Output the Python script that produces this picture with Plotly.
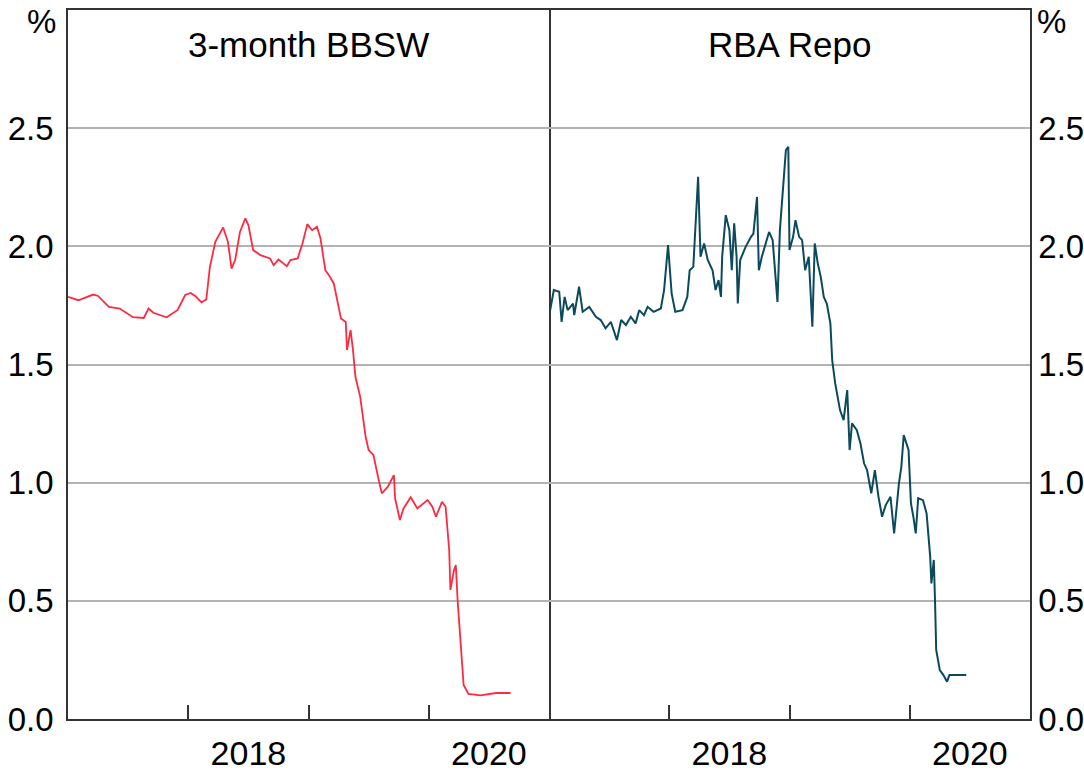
import plotly.graph_objects as go
from plotly.subplots import make_subplots

# fechas en años decimales, valores en %
bbsw_x = [2017.00, 2017.086, 2017.21, 2017.25, 2017.34, 2017.43, 2017.54, 2017.63, 2017.67, 2017.71,
          2017.82, 2017.91, 2017.975, 2018.02, 2018.06, 2018.11, 2018.15, 2018.18, 2018.225, 2018.29,
          2018.33, 2018.36, 2018.39, 2018.43, 2018.475, 2018.50, 2018.54, 2018.60, 2018.68, 2018.71,
          2018.75, 2018.82, 2018.85, 2018.91, 2018.95, 2018.99, 2019.03, 2019.07, 2019.10, 2019.14,
          2019.17, 2019.21, 2019.27, 2019.31, 2019.32, 2019.35, 2019.37, 2019.39, 2019.43, 2019.475,
          2019.50, 2019.54, 2019.59, 2019.61, 2019.66, 2019.71, 2019.72, 2019.76, 2019.79, 2019.85,
          2019.905, 2019.99, 2020.03, 2020.06, 2020.11, 2020.14, 2020.17, 2020.18, 2020.21, 2020.225,
          2020.24, 2020.27, 2020.29, 2020.33, 2020.43, 2020.56, 2020.68]
bbsw_y = [1.786, 1.772, 1.796, 1.79, 1.744, 1.737, 1.70, 1.697, 1.737, 1.719,
          1.70, 1.73, 1.794, 1.803, 1.789, 1.763, 1.775, 1.913, 2.019, 2.08,
          2.019, 1.906, 1.942, 2.061, 2.118, 2.09, 1.984, 1.963, 1.949, 1.92,
          1.944, 1.916, 1.942, 1.949, 2.012, 2.094, 2.068, 2.083, 2.033, 1.899,
          1.878, 1.843, 1.695, 1.68, 1.561, 1.646, 1.561, 1.448, 1.363, 1.194,
          1.138, 1.117, 0.997, 0.955, 0.983, 1.032, 0.934, 0.842, 0.891, 0.938,
          0.891, 0.926, 0.898, 0.856, 0.919, 0.898, 0.715, 0.546, 0.63, 0.651,
          0.503, 0.271, 0.144, 0.106, 0.10, 0.11, 0.11]

repo_x = [2017.01, 2017.04, 2017.085, 2017.105, 2017.13, 2017.155, 2017.20, 2017.21, 2017.25, 2017.28,
          2017.335, 2017.39, 2017.43, 2017.47, 2017.515, 2017.565, 2017.60, 2017.64, 2017.68, 2017.72,
          2017.75, 2017.79, 2017.82, 2017.87, 2017.93, 2017.957, 2017.99, 2018.02, 2018.05, 2018.11,
          2018.15, 2018.17, 2018.20, 2018.22, 2018.24, 2018.26, 2018.29, 2018.32, 2018.36, 2018.385,
          2018.41, 2018.43, 2018.44, 2018.47, 2018.50, 2018.52, 2018.54, 2018.56, 2018.57, 2018.59,
          2018.635, 2018.68, 2018.70, 2018.73, 2018.745, 2018.77, 2018.83, 2018.86, 2018.88, 2018.90,
          2018.92, 2018.95, 2018.97, 2018.99, 2019.00, 2019.03, 2019.05, 2019.08, 2019.105, 2019.13,
          2019.16, 2019.19, 2019.21, 2019.235, 2019.26, 2019.285, 2019.31, 2019.34, 2019.355, 2019.38,
          2019.42, 2019.45, 2019.48, 2019.50, 2019.52, 2019.56, 2019.59, 2019.62, 2019.645, 2019.68,
          2019.71, 2019.74, 2019.77, 2019.80, 2019.84, 2019.87, 2019.91, 2019.93, 2019.95, 2019.99,
          2020.01, 2020.03, 2020.05, 2020.07, 2020.11, 2020.14, 2020.17, 2020.18, 2020.20, 2020.21,
          2020.22, 2020.25, 2020.28, 2020.31, 2020.33, 2020.47]
repo_y = [1.73, 1.815, 1.808, 1.68, 1.786, 1.73, 1.758, 1.709, 1.829, 1.723,
          1.744, 1.702, 1.688, 1.653, 1.68, 1.603, 1.688, 1.667, 1.702, 1.674,
          1.73, 1.709, 1.744, 1.723, 1.737, 1.815, 2.005, 1.80, 1.723, 1.73,
          1.786, 1.899, 1.913, 2.111, 2.294, 1.956, 2.012, 1.942, 1.899, 1.815,
          1.857, 1.786, 1.956, 2.132, 2.068, 1.899, 2.097, 1.956, 1.758, 1.942,
          1.998, 2.04, 2.054, 2.209, 1.899, 1.956, 2.061, 2.026, 1.885, 1.765,
          2.068, 2.266, 2.407, 2.421, 1.984, 2.04, 2.111, 2.04, 2.026, 1.899,
          1.956, 1.66, 2.012, 1.928, 1.871, 1.786, 1.758, 1.674, 1.519, 1.42,
          1.307, 1.265, 1.392, 1.138, 1.251, 1.222, 1.166, 1.082, 1.053, 0.955,
          1.053, 0.94, 0.856, 0.905, 0.94, 0.785, 0.997, 1.067, 1.201, 1.138,
          0.912, 0.856, 0.785, 0.934, 0.926, 0.87, 0.687, 0.574, 0.673, 0.503,
          0.292, 0.207, 0.186, 0.158, 0.186, 0.186]

titulos = ['3-month BBSW', 'RBA Repo']
y_ticks = [0.0, 0.5, 1.0, 1.5, 2.0, 2.5]
x_labels = ['2018', '2020']

FUENTE = 'Arial, Liberation Sans, sans-serif'
TAM = 33

fig = make_subplots(rows=1, cols=2, horizontal_spacing=0)

fig.add_trace(go.Scatter(x=bbsw_x, y=bbsw_y, mode='lines',
                         line=dict(color='#FF2A40', width=1.8)), row=1, col=1)
fig.add_trace(go.Scatter(x=repo_x, y=repo_y, mode='lines',
                         line=dict(color='#0B4A5C', width=2)), row=1, col=2)

for col in (1, 2):
    fig.update_xaxes(
        range=[2017, 2021], showgrid=False, zeroline=False, automargin=False,
        showline=True, linecolor='#333', linewidth=1.5, mirror=True,
        tickvals=[2018.5, 2020.5], ticktext=x_labels, ticks='',
        ticklabelstandoff=3,
        minor=dict(tickvals=[2018, 2019, 2020], ticks='inside', ticklen=14,
                   tickcolor='#333', tickwidth=1.5, showgrid=False),
        tickfont=dict(family=FUENTE, size=TAM + 1, color='black'),
        row=1, col=col)
    fig.update_yaxes(
        range=[0, 3], tickvals=y_ticks, tickformat='.1f', ticks='',
        showgrid=True, gridcolor='#b3b3b3', gridwidth=1.5, zeroline=False,
        showline=True, linecolor='#333', linewidth=1.5, mirror=(col == 1),
        automargin=False,
        side='left' if col == 1 else 'right',
        ticklabelstandoff=6 if col == 1 else 0,
        tickfont=dict(family=FUENTE, size=TAM, color='black'),
        row=1, col=col)

for i, t in enumerate(titulos):
    fig.add_annotation(text=t, x=0.25 + 0.5 * i, y=0.952, xref='paper', yref='paper',
                       xanchor='center', yanchor='middle', showarrow=False,
                       font=dict(family=FUENTE, size=35, color='black'))

fig.add_annotation(text='%', x=-0.01, y=0.984, xref='paper', yref='paper',
                   xanchor='right', yanchor='middle', showarrow=False,
                   font=dict(family=FUENTE, size=TAM, color='black'))
fig.add_annotation(text='%', x=1.005, y=0.984, xref='paper', yref='paper',
                   xanchor='left', yanchor='middle', showarrow=False,
                   font=dict(family=FUENTE, size=TAM, color='black'))

fig.update_layout(
    width=1084, height=772,
    margin=dict(l=68, r=54, t=10, b=53),
    paper_bgcolor='white', plot_bgcolor='white',
    showlegend=False,
)

# quitar el margen del body para que la figura empiece en (0, 0)
fig.write_html("out.html", config={'displayModeBar': False},
               post_script="document.body.style.margin='0px';")
